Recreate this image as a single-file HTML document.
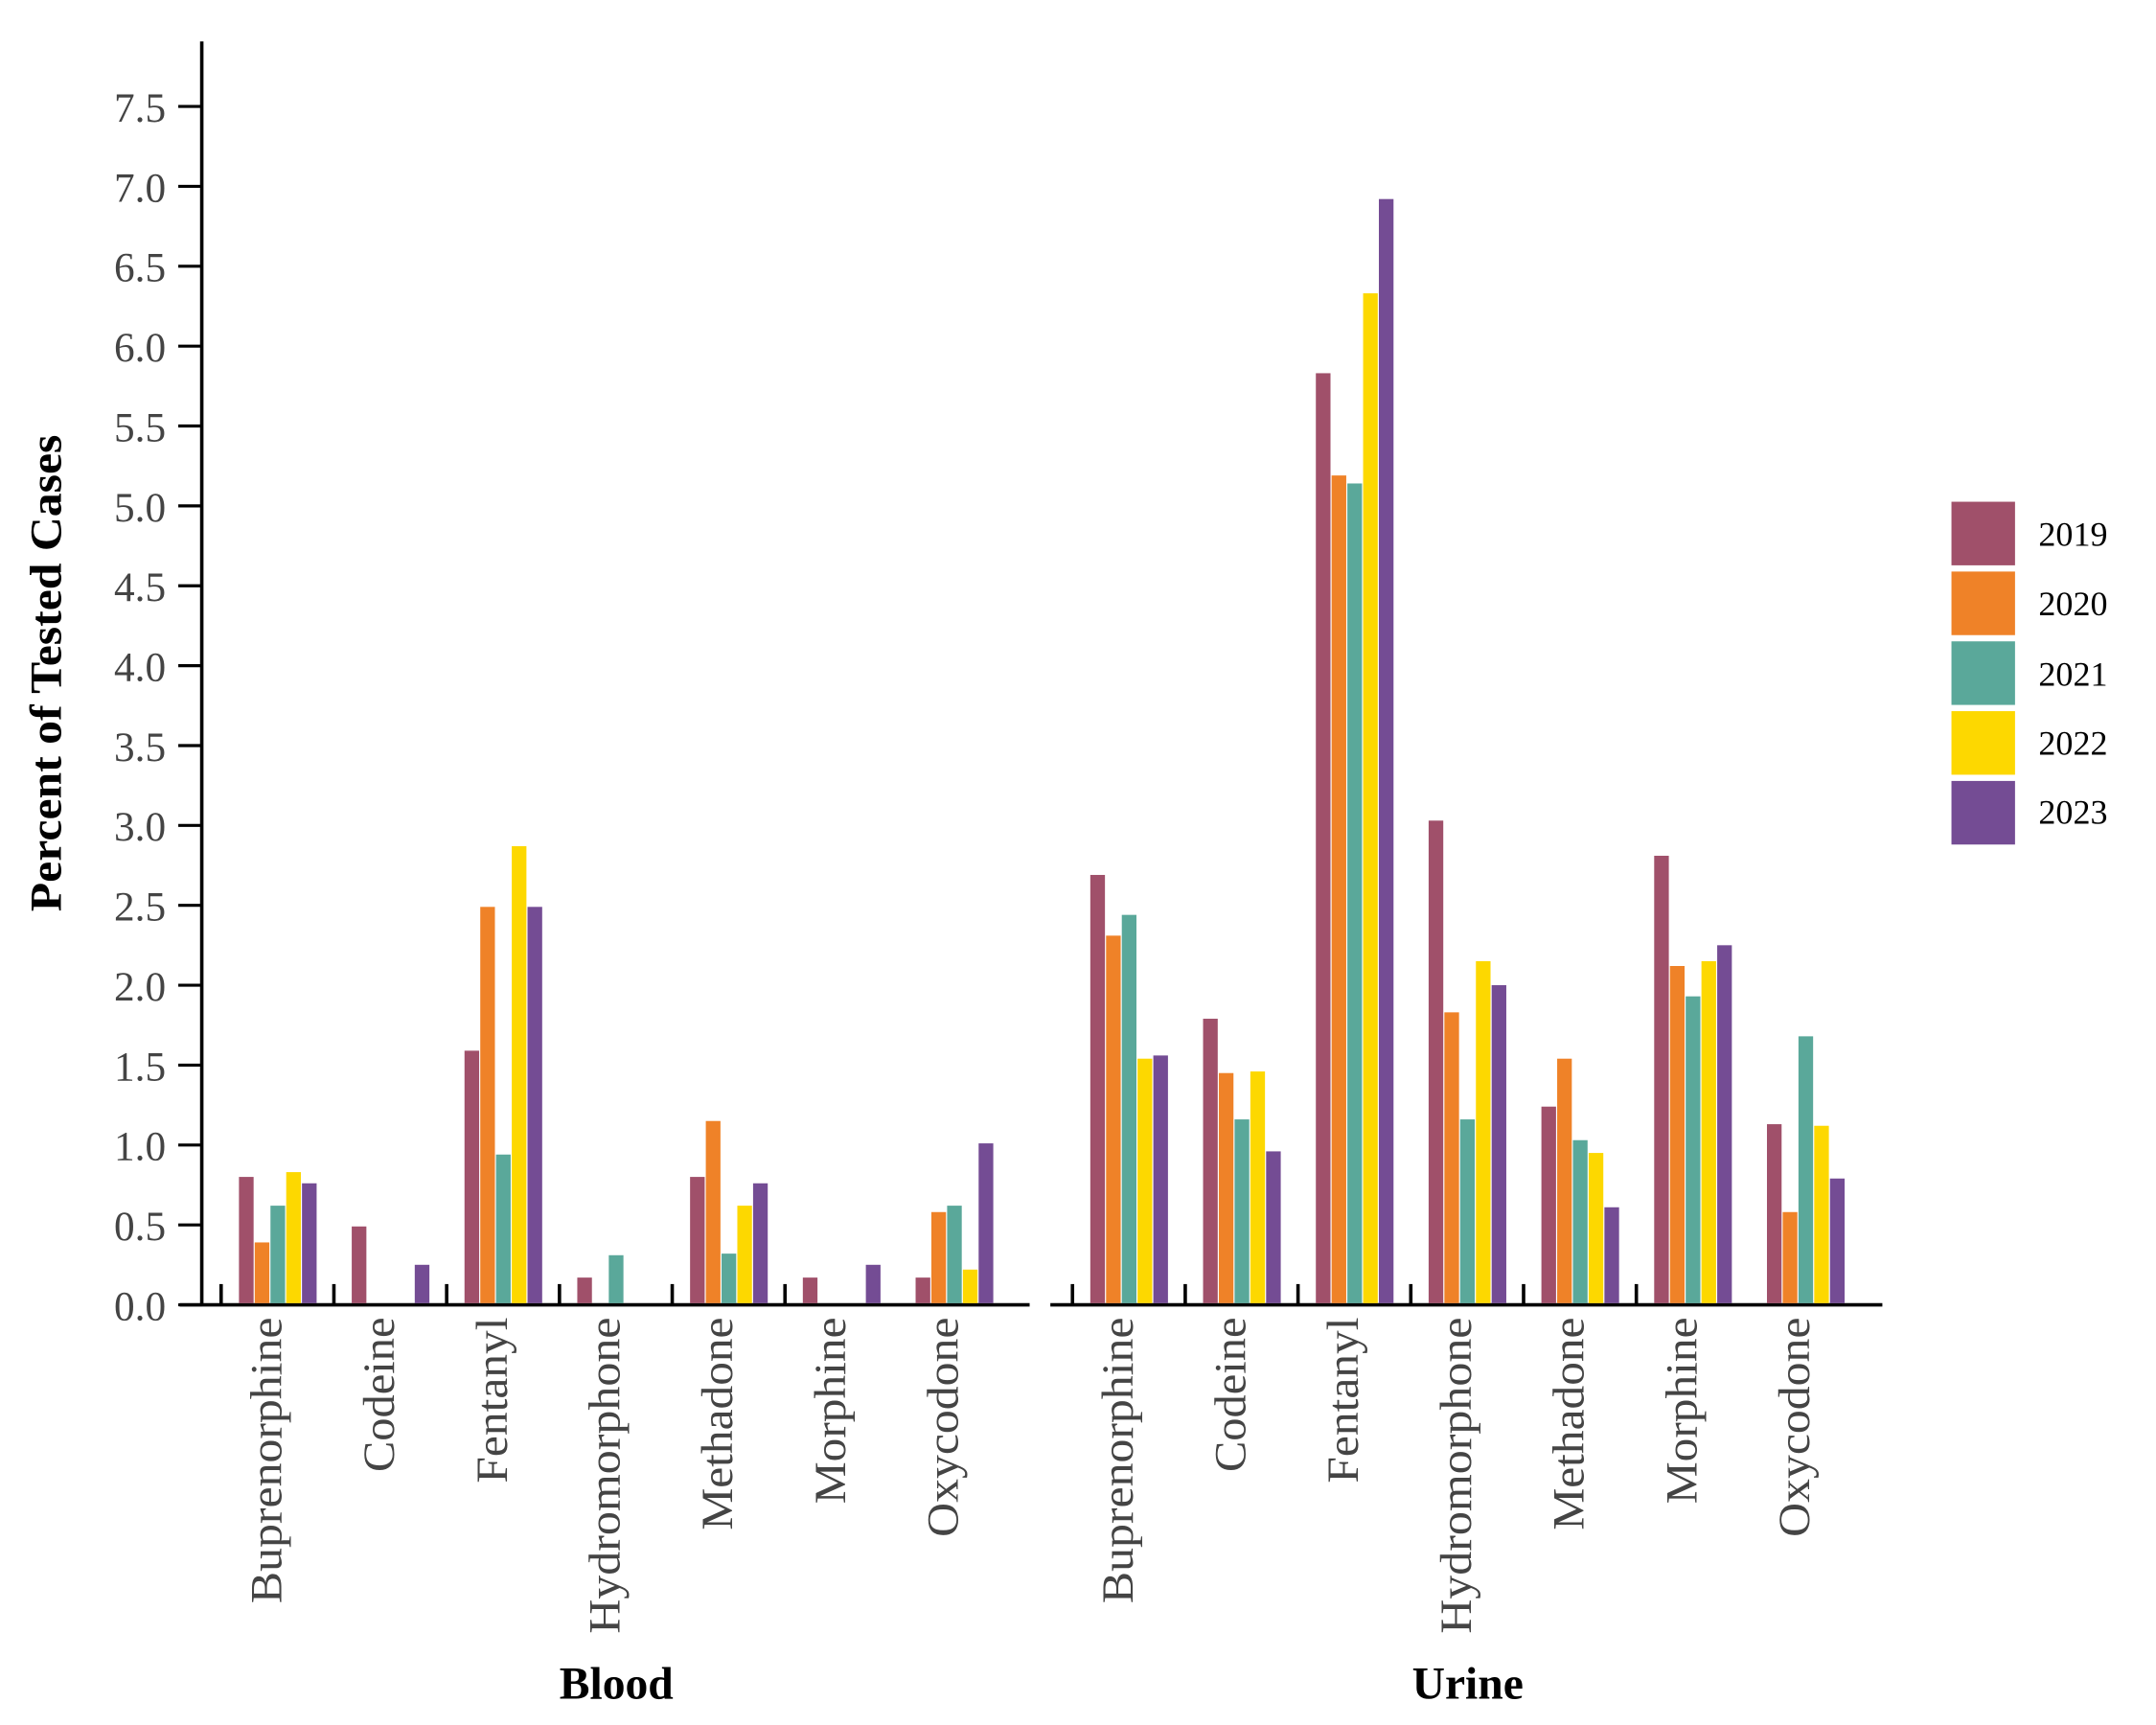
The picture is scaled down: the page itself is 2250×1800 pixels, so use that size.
<!DOCTYPE html>
<html><head><meta charset="utf-8"><style>html,body{margin:0;padding:0;background:#fff}svg{display:block}</style></head>
<body>
<svg xmlns="http://www.w3.org/2000/svg" width="2250" height="1800" viewBox="0 0 1560 1248" font-family="'Liberation Serif', serif">
<rect width="1560" height="1248" fill="#fff"/>
<!-- y axis -->
<line x1="146" y1="30" x2="146" y2="945" stroke="#000" stroke-width="2.5"/>
<g stroke="#000" stroke-width="2.2">
<line x1="129" y1="944" x2="146" y2="944"/>
<line x1="129" y1="886.2" x2="146" y2="886.2"/>
<line x1="129" y1="828.4" x2="146" y2="828.4"/>
<line x1="129" y1="770.6" x2="146" y2="770.6"/>
<line x1="129" y1="712.8" x2="146" y2="712.8"/>
<line x1="129" y1="655" x2="146" y2="655"/>
<line x1="129" y1="597.2" x2="146" y2="597.2"/>
<line x1="129" y1="539.4" x2="146" y2="539.4"/>
<line x1="129" y1="481.6" x2="146" y2="481.6"/>
<line x1="129" y1="423.8" x2="146" y2="423.8"/>
<line x1="129" y1="366" x2="146" y2="366"/>
<line x1="129" y1="308.2" x2="146" y2="308.2"/>
<line x1="129" y1="250.4" x2="146" y2="250.4"/>
<line x1="129" y1="192.6" x2="146" y2="192.6"/>
<line x1="129" y1="134.8" x2="146" y2="134.8"/>
<line x1="129" y1="77" x2="146" y2="77"/>
</g>
<g font-size="30" fill="#444" text-anchor="end">
<text x="120" y="955">0.0</text>
<text x="120" y="897.2">0.5</text>
<text x="120" y="839.4">1.0</text>
<text x="120" y="781.6">1.5</text>
<text x="120" y="723.8">2.0</text>
<text x="120" y="666">2.5</text>
<text x="120" y="608.2">3.0</text>
<text x="120" y="550.4">3.5</text>
<text x="120" y="492.6">4.0</text>
<text x="120" y="434.8">4.5</text>
<text x="120" y="377">5.0</text>
<text x="120" y="319.2">5.5</text>
<text x="120" y="261.4">6.0</text>
<text x="120" y="203.6">6.5</text>
<text x="120" y="145.8">7.0</text>
<text x="120" y="88">7.5</text>
</g>
<text transform="translate(44,487) rotate(-90)" text-anchor="middle" font-size="32" font-weight="bold" fill="#000" textLength="345" lengthAdjust="spacingAndGlyphs">Percent of Tested Cases</text>

<!-- x axes -->
<line x1="130" y1="944" x2="745" y2="944" stroke="#000" stroke-width="2.5"/>
<line x1="760" y1="944" x2="1362" y2="944" stroke="#000" stroke-width="2.5"/>
<g stroke="#000" stroke-width="2.5">
<line x1="160" y1="929" x2="160" y2="944"/><line x1="241.6" y1="929" x2="241.6" y2="944"/><line x1="323.2" y1="929" x2="323.2" y2="944"/><line x1="404.8" y1="929" x2="404.8" y2="944"/><line x1="486.4" y1="929" x2="486.4" y2="944"/><line x1="568" y1="929" x2="568" y2="944"/>
<line x1="776" y1="929" x2="776" y2="944"/><line x1="857.6" y1="929" x2="857.6" y2="944"/><line x1="939.2" y1="929" x2="939.2" y2="944"/><line x1="1020.8" y1="929" x2="1020.8" y2="944"/><line x1="1102.4" y1="929" x2="1102.4" y2="944"/><line x1="1184" y1="929" x2="1184" y2="944"/>
</g>

<g>
<g transform="translate(201.4,942.8) scale(1,-115.6)"><rect x="-28.5" y="0" width="10.6" height="0.79" fill="#A0506A"/><rect x="-17.1" y="0" width="10.6" height="0.38" fill="#EF8228"/><rect x="-5.7" y="0" width="10.6" height="0.61" fill="#5AA89A"/><rect x="5.7" y="0" width="10.6" height="0.82" fill="#FDD800"/><rect x="17.1" y="0" width="10.6" height="0.75" fill="#744C94"/></g>
<g transform="translate(283,942.8) scale(1,-115.6)"><rect x="-28.5" y="0" width="10.6" height="0.48" fill="#A0506A"/><rect x="17.1" y="0" width="10.6" height="0.24" fill="#744C94"/></g>
<g transform="translate(364.6,942.8) scale(1,-115.6)"><rect x="-28.5" y="0" width="10.6" height="1.58" fill="#A0506A"/><rect x="-17.1" y="0" width="10.6" height="2.48" fill="#EF8228"/><rect x="-5.7" y="0" width="10.6" height="0.93" fill="#5AA89A"/><rect x="5.7" y="0" width="10.6" height="2.86" fill="#FDD800"/><rect x="17.1" y="0" width="10.6" height="2.48" fill="#744C94"/></g>
<g transform="translate(446.2,942.8) scale(1,-115.6)"><rect x="-28.5" y="0" width="10.6" height="0.16" fill="#A0506A"/><rect x="-5.7" y="0" width="10.6" height="0.30" fill="#5AA89A"/></g>
<g transform="translate(527.8,942.8) scale(1,-115.6)"><rect x="-28.5" y="0" width="10.6" height="0.79" fill="#A0506A"/><rect x="-17.1" y="0" width="10.6" height="1.14" fill="#EF8228"/><rect x="-5.7" y="0" width="10.6" height="0.31" fill="#5AA89A"/><rect x="5.7" y="0" width="10.6" height="0.61" fill="#FDD800"/><rect x="17.1" y="0" width="10.6" height="0.75" fill="#744C94"/></g>
<g transform="translate(609.4,942.8) scale(1,-115.6)"><rect x="-28.5" y="0" width="10.6" height="0.16" fill="#A0506A"/><rect x="17.1" y="0" width="10.6" height="0.24" fill="#744C94"/></g>
<g transform="translate(691,942.8) scale(1,-115.6)"><rect x="-28.5" y="0" width="10.6" height="0.16" fill="#A0506A"/><rect x="-17.1" y="0" width="10.6" height="0.57" fill="#EF8228"/><rect x="-5.7" y="0" width="10.6" height="0.61" fill="#5AA89A"/><rect x="5.7" y="0" width="10.6" height="0.21" fill="#FDD800"/><rect x="17.1" y="0" width="10.6" height="1.00" fill="#744C94"/></g>
<g transform="translate(817.4,942.8) scale(1,-115.6)"><rect x="-28.5" y="0" width="10.6" height="2.68" fill="#A0506A"/><rect x="-17.1" y="0" width="10.6" height="2.30" fill="#EF8228"/><rect x="-5.7" y="0" width="10.6" height="2.43" fill="#5AA89A"/><rect x="5.7" y="0" width="10.6" height="1.53" fill="#FDD800"/><rect x="17.1" y="0" width="10.6" height="1.55" fill="#744C94"/></g>
<g transform="translate(899,942.8) scale(1,-115.6)"><rect x="-28.5" y="0" width="10.6" height="1.78" fill="#A0506A"/><rect x="-17.1" y="0" width="10.6" height="1.44" fill="#EF8228"/><rect x="-5.7" y="0" width="10.6" height="1.15" fill="#5AA89A"/><rect x="5.7" y="0" width="10.6" height="1.45" fill="#FDD800"/><rect x="17.1" y="0" width="10.6" height="0.95" fill="#744C94"/></g>
<g transform="translate(980.6,942.8) scale(1,-115.6)"><rect x="-28.5" y="0" width="10.6" height="5.82" fill="#A0506A"/><rect x="-17.1" y="0" width="10.6" height="5.18" fill="#EF8228"/><rect x="-5.7" y="0" width="10.6" height="5.13" fill="#5AA89A"/><rect x="5.7" y="0" width="10.6" height="6.32" fill="#FDD800"/><rect x="17.1" y="0" width="10.6" height="6.91" fill="#744C94"/></g>
<g transform="translate(1062.2,942.8) scale(1,-115.6)"><rect x="-28.5" y="0" width="10.6" height="3.02" fill="#A0506A"/><rect x="-17.1" y="0" width="10.6" height="1.82" fill="#EF8228"/><rect x="-5.7" y="0" width="10.6" height="1.15" fill="#5AA89A"/><rect x="5.7" y="0" width="10.6" height="2.14" fill="#FDD800"/><rect x="17.1" y="0" width="10.6" height="1.99" fill="#744C94"/></g>
<g transform="translate(1143.8,942.8) scale(1,-115.6)"><rect x="-28.5" y="0" width="10.6" height="1.23" fill="#A0506A"/><rect x="-17.1" y="0" width="10.6" height="1.53" fill="#EF8228"/><rect x="-5.7" y="0" width="10.6" height="1.02" fill="#5AA89A"/><rect x="5.7" y="0" width="10.6" height="0.94" fill="#FDD800"/><rect x="17.1" y="0" width="10.6" height="0.60" fill="#744C94"/></g>
<g transform="translate(1225.4,942.8) scale(1,-115.6)"><rect x="-28.5" y="0" width="10.6" height="2.80" fill="#A0506A"/><rect x="-17.1" y="0" width="10.6" height="2.11" fill="#EF8228"/><rect x="-5.7" y="0" width="10.6" height="1.92" fill="#5AA89A"/><rect x="5.7" y="0" width="10.6" height="2.14" fill="#FDD800"/><rect x="17.1" y="0" width="10.6" height="2.24" fill="#744C94"/></g>
<g transform="translate(1307,942.8) scale(1,-115.6)"><rect x="-28.5" y="0" width="10.6" height="1.12" fill="#A0506A"/><rect x="-17.1" y="0" width="10.6" height="0.57" fill="#EF8228"/><rect x="-5.7" y="0" width="10.6" height="1.67" fill="#5AA89A"/><rect x="5.7" y="0" width="10.6" height="1.11" fill="#FDD800"/><rect x="17.1" y="0" width="10.6" height="0.78" fill="#744C94"/></g>
</g>

<g font-size="32" fill="#444" text-anchor="end">
<text transform="translate(203.4,953) rotate(-90)" textLength="207" lengthAdjust="spacingAndGlyphs">Buprenorphine</text>
<text transform="translate(285,953) rotate(-90)" textLength="112" lengthAdjust="spacingAndGlyphs">Codeine</text>
<text transform="translate(366.6,953) rotate(-90)" textLength="120" lengthAdjust="spacingAndGlyphs">Fentanyl</text>
<text transform="translate(448.2,953) rotate(-90)" textLength="229" lengthAdjust="spacingAndGlyphs">Hydromorphone</text>
<text transform="translate(529.8,953) rotate(-90)" textLength="154" lengthAdjust="spacingAndGlyphs">Methadone</text>
<text transform="translate(611.4,953) rotate(-90)" textLength="135" lengthAdjust="spacingAndGlyphs">Morphine</text>
<text transform="translate(693,953) rotate(-90)" textLength="159" lengthAdjust="spacingAndGlyphs">Oxycodone</text>
<text transform="translate(819.4,953) rotate(-90)" textLength="207" lengthAdjust="spacingAndGlyphs">Buprenorphine</text>
<text transform="translate(901,953) rotate(-90)" textLength="112" lengthAdjust="spacingAndGlyphs">Codeine</text>
<text transform="translate(982.6,953) rotate(-90)" textLength="120" lengthAdjust="spacingAndGlyphs">Fentanyl</text>
<text transform="translate(1064.2,953) rotate(-90)" textLength="229" lengthAdjust="spacingAndGlyphs">Hydromorphone</text>
<text transform="translate(1145.8,953) rotate(-90)" textLength="154" lengthAdjust="spacingAndGlyphs">Methadone</text>
<text transform="translate(1227.4,953) rotate(-90)" textLength="135" lengthAdjust="spacingAndGlyphs">Morphine</text>
<text transform="translate(1309,953) rotate(-90)" textLength="159" lengthAdjust="spacingAndGlyphs">Oxycodone</text>
</g>
<g font-size="33" font-weight="bold" fill="#000" text-anchor="middle">
<text x="446" y="1229">Blood</text>
<text x="1062" y="1229">Urine</text>
</g>

<rect x="1412" y="363" width="46" height="46" fill="#A0506A"/>
<rect x="1412" y="413.5" width="46" height="46" fill="#EF8228"/>
<rect x="1412" y="464" width="46" height="46" fill="#5AA89A"/>
<rect x="1412" y="514.5" width="46" height="46" fill="#FDD800"/>
<rect x="1412" y="565" width="46" height="46" fill="#744C94"/>
<g font-size="25" fill="#000">
<text x="1475" y="395">2019</text>
<text x="1475" y="445">2020</text>
<text x="1475" y="496">2021</text>
<text x="1475" y="546">2022</text>
<text x="1475" y="596">2023</text>
</g>
</svg>
</body></html>
